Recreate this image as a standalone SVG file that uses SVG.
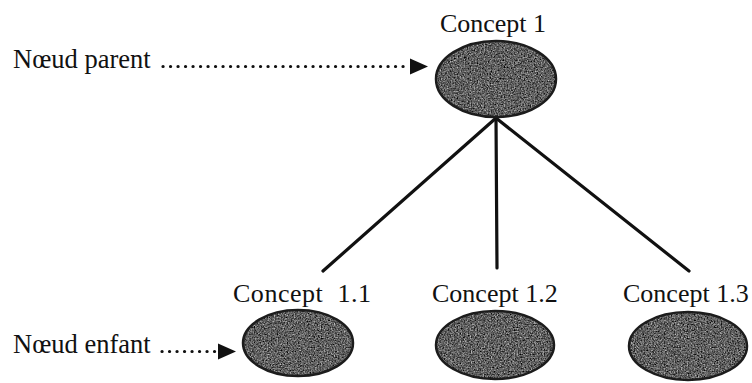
<svg xmlns="http://www.w3.org/2000/svg" width="752" height="383" viewBox="0 0 752 383">
<style>
  text { font-family: "Liberation Serif", "Times New Roman", serif; font-size: 26px; fill: #111; }
  .lbl { white-space: pre; }
  .side { font-size: 26.5px; }
  .node-fill { fill: #555; filter: url(#grain); }
  .node-edge { fill: none; stroke: #1c1c1c; stroke-width: 2.5; }
  .edge { stroke: #111; stroke-width: 3.2; stroke-linecap: round; fill: none; }
  .dots { stroke: #111; stroke-width: 3.2; stroke-dasharray: 0.1 7.4; stroke-linecap: round; fill: none; }
</style>
<defs>
  <filter id="grain" x="0" y="0" width="100%" height="100%" color-interpolation-filters="sRGB">
    <feTurbulence type="fractalNoise" baseFrequency="0.7" numOctaves="2" seed="7" result="n"/>
    <feColorMatrix in="n" type="matrix" values="0.75 0.75 0 0 -0.38  0.75 0.75 0 0 -0.38  0.75 0.75 0 0 -0.38  0 0 0 0 1" result="g"/>
    <feComposite in="g" in2="SourceAlpha" operator="in"/>
  </filter>
</defs>

<g id="connectors">
  <line class="edge" x1="496" y1="118" x2="323" y2="271"/>
  <line class="edge" x1="496" y1="118" x2="497" y2="268"/>
  <line class="edge" x1="496" y1="118" x2="689" y2="271"/>
</g>

<g id="node-concept1">
  <ellipse class="node-fill" cx="496" cy="79" rx="60" ry="38"/>
  <ellipse class="node-edge" cx="496" cy="79" rx="60" ry="38"/>
  <text x="493" y="32" text-anchor="middle">Concept 1</text>
</g>

<g id="node-concept11">
  <ellipse class="node-fill" cx="298" cy="343" rx="55" ry="33"/>
  <ellipse class="node-edge" cx="298" cy="343" rx="55" ry="33"/>
  <text class="lbl" x="233" y="302" textLength="138">Concept  1.1</text>
</g>

<g id="node-concept12">
  <ellipse class="node-fill" cx="495" cy="345" rx="59" ry="34"/>
  <ellipse class="node-edge" cx="495" cy="345" rx="59" ry="34"/>
  <text x="432" y="302">Concept 1.2</text>
</g>

<g id="node-concept13">
  <ellipse class="node-fill" cx="688" cy="346" rx="59" ry="34"/>
  <ellipse class="node-edge" cx="688" cy="346" rx="59" ry="34"/>
  <text x="623" y="302">Concept 1.3</text>
</g>

<g id="label-parent">
  <text class="side" x="13" y="68">Nœud parent</text>
  <line class="dots" x1="163" y1="66.5" x2="408" y2="66.5"/>
  <path d="M410,58.5 L428,66.5 L410,74.5 z" fill="#111"/>
</g>

<g id="label-enfant">
  <text class="side" x="13" y="353">Nœud enfant</text>
  <line class="dots" x1="162" y1="351.5" x2="216" y2="351.5"/>
  <path d="M218,343.5 L236,351.5 L218,359.5 z" fill="#111"/>
</g>
</svg>
